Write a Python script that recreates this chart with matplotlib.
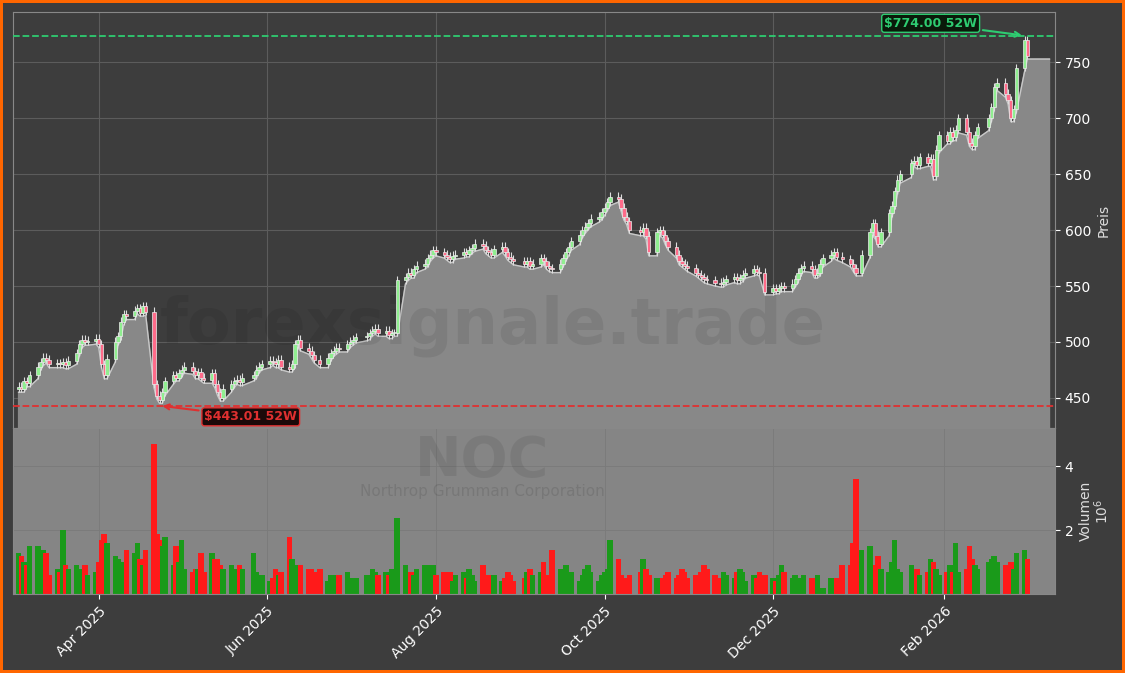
import matplotlib
matplotlib.use("Agg")
import matplotlib.pyplot as plt
import matplotlib.dates as mdates
import pandas as pd
from pandas.tseries.holiday import USFederalHolidayCalendar
from pandas.tseries.offsets import CustomBusinessDay

# Daily closes (approx.), Mar 2025 - Mar 2026
closes = [
    460, 458, 465, 463, 470, 478, 482, 486, 484, 480,
    481, 480, 482, 479, 483, 490, 498, 502, 500, 501,
    503, 498, 480, 470, 485, 500, 505, 518, 525, 523,
    528, 530, 526, 532, 527, 462,
    452, 448, 455, 465, 470, 468, 472, 475, 478,
    474, 470, 473, 468, 466, 472, 462, 455, 450, 458,
    462, 465, 466, 464, 468, 470, 475, 478, 480, 483,
    482, 480, 484, 478, 476, 480, 498, 502, 495, 492,
    488, 484, 480, 486, 490, 492, 495, 494, 498, 500,
    502, 504, 505, 508, 510, 512, 508, 510, 506, 508, 508,
    555, 558, 562, 560, 565, 568, 570, 575, 578, 582, 580,
    578, 576, 574, 577, 578, 580, 579, 582, 584, 588,
    586, 582, 580, 578, 583, 585, 580, 576, 574, 572,
    570, 572, 568, 570, 575, 572, 568, 566, 565, 570,
    575, 580, 585, 590, 596, 600, 603, 606, 610, 612,
    616, 620, 625, 630, 628, 620, 612, 608, 600, 598,
    602, 595, 580, 598, 600, 596, 590, 585, 578, 572,
    570, 568, 566, 562, 560, 558, 556, 555, 553, 552,
    554, 556, 558, 555, 557, 560, 562, 565, 563, 562,
    545, 548, 546, 548, 550, 548, 552, 556, 562, 566,
    568, 565, 560, 562, 570, 575, 578, 580, 576, 574,
    570, 566, 562, 578, 598, 606, 595, 588, 598, 615,
    622, 635, 645, 650, 660, 662, 658, 665, 660, 664,
    648, 672, 685, 680, 688, 683, 690, 700, 688, 678,
    675, 685, 692, 700, 710, 728, 732, 722, 716, 700,
    708, 745, 770, 756,
]
# Daily volume in millions (approx.)
volumes = [
    1.3, 1.2, 1.0, 0.9, 1.5, 1.5, 1.2, 1.4, 1.3, 0.6,
    0.8, 0.7, 2.0, 0.9, 0.8, 0.9, 0.8, 0.7, 0.9, 0.6,
    0.7, 1.0, 1.7, 1.9, 1.6, 1.2, 1.1, 0.8, 1.0, 1.4,
    1.3, 1.6, 1.1, 0.9, 1.4, 4.7,
    1.9, 1.7, 1.5, 1.8, 0.9, 1.5, 1.0, 1.7, 0.8,
    0.7, 0.8, 0.8, 1.3, 0.7, 1.3, 1.1, 1.1, 0.9, 0.8,
    0.9, 0.7, 0.8, 0.9, 0.8, 1.3, 0.7, 0.6, 0.6, 0.4,
    0.5, 0.8, 0.6, 0.7, 1.8, 1.1, 0.7, 0.9, 0.9, 0.8,
    0.8, 0.7, 0.8, 0.4, 0.6, 0.6, 0.5, 0.6, 0.7, 0.5,
    0.4, 0.5, 0.6, 0.5, 0.8, 0.7, 0.6, 0.7, 0.6, 0.8, 0.7,
    2.4,
    0.9, 0.6, 0.7, 0.6, 0.8, 0.9, 0.9, 0.8, 0.9, 0.6,
    0.7, 0.6, 0.7, 0.4, 0.6, 0.7, 0.5, 0.8, 0.6, 0.4,
    0.9, 0.5, 0.6, 0.5, 0.6, 0.4, 0.5, 0.7, 0.6, 0.4,
    0.5, 0.7, 0.8, 0.6, 0.7, 1.0, 0.5, 0.6, 1.4, 0.8,
    0.6, 0.9, 0.5, 0.7, 0.4, 0.6, 0.8, 0.9, 0.7, 0.4,
    0.6, 0.7, 0.8, 1.7, 1.1, 0.6, 0.5, 0.5, 0.6, 0.7,
    1.1, 0.8, 0.6, 0.5, 0.4, 0.5, 0.6, 0.7, 0.5, 0.6,
    0.8, 0.7, 0.5, 0.6, 0.4, 0.7, 0.9, 0.8, 0.6, 0.5,
    0.7, 0.6, 0.5, 0.7, 0.8, 0.7, 0.4, 0.6, 0.5, 0.7,
    0.6, 0.5, 0.4, 0.6, 0.9, 0.7, 0.5, 0.6, 0.4, 0.5,
    0.6, 0.5, 0.4, 0.6, 0.2, 0.2, 0.5, 0.4, 0.5, 0.9,
    0.9, 1.6, 3.6, 1.4, 1.5, 0.9, 0.9, 1.2, 0.8, 0.7,
    1.0, 1.7, 0.8, 0.7, 0.9, 0.8, 0.8, 0.6, 0.7, 1.1,
    1.0, 0.8, 0.6, 0.7, 0.9, 0.7, 1.6, 0.7, 0.8, 1.5,
    1.1, 0.9, 0.8, 1.0, 1.1, 1.2, 1.0, 0.9, 0.9, 1.0,
    0.8, 1.3, 1.4, 1.1,
]
high_52w = 774.00
low_52w = 443.01
ticker = "NOC"
company = "Northrop Grumman Corporation"

cbd = CustomBusinessDay(calendar=USFederalHolidayCalendar())
dates = pd.date_range("2025-03-03", periods=len(closes), freq=cbd)
opens = [closes[0] - 2] + closes[:-1]
highs = [max(o, c) + 4 for o, c in zip(opens, closes)]
lows = [min(o, c) - 3 for o, c in zip(opens, closes)]

bg = "#3d3d3d"
fig = plt.figure(figsize=(11.25, 6.73), dpi=100, facecolor=bg)
fig.patch.set_edgecolor("#ff6600")
fig.patch.set_linewidth(4)
ax = fig.add_axes([0.0116, 0.364, 0.9262, 0.618], facecolor=bg)
axv = fig.add_axes([0.0116, 0.117, 0.9262, 0.247], sharex=ax, facecolor="#858585")

# area under lows, extended flat to the right
fill_x = list(dates) + [dates[-1] + pd.Timedelta(days=8)]
fill_y = lows + [lows[-1]]
ax.fill_between(fill_x, fill_y, 0, color="#888888", zorder=1)
ax.plot(fill_x, fill_y, color="#c8c8c8", lw=1, zorder=2)

for d, o, h, l, c in zip(dates, opens, highs, lows, closes):
    col = "#90ee90" if c >= o else "#ff6b8a"
    ax.vlines(d, l, h, color="#dddddd", lw=0.8, zorder=3)
    ax.bar(d, max(abs(c - o), 0.8), bottom=min(o, c), width=1.2,
           color=col, edgecolor="#eeeeee", lw=0.5, zorder=4)

ax.axhline(high_52w, color="#2ecc71", ls="--", lw=1.3, zorder=5)
ax.axhline(low_52w, color="#e03030", ls="--", lw=1.3, zorder=5)
i_hi = max(range(len(highs)), key=lambda i: highs[i])
i_lo = min(range(len(lows)), key=lambda i: lows[i])
ax.annotate(f"${high_52w:.2f} 52W", xy=(dates[i_hi], high_52w),
            xytext=(dates[i_hi] - pd.Timedelta(days=34), 785),
            color="#2ecc71", fontsize=9, fontweight="bold", ha="center", va="center",
            bbox=dict(boxstyle="round,pad=0.2", fc="#0a1a0a", ec="#2ecc71"),
            arrowprops=dict(arrowstyle="->", color="#2ecc71", lw=1.5), zorder=6)
ax.annotate(f"${low_52w:.2f} 52W", xy=(dates[i_lo], low_52w),
            xytext=(dates[i_lo] + pd.Timedelta(days=33), 433),
            color="#e03030", fontsize=9, fontweight="bold", ha="center", va="center",
            bbox=dict(boxstyle="round,pad=0.2", fc="#1a0a0a", ec="#e03030"),
            arrowprops=dict(arrowstyle="->", color="#e03030", lw=1.5), zorder=6)

ax.text(0.46, 0.245, "forexsignale.trade", transform=ax.transAxes, fontsize=46,
        fontweight="bold", color="black", alpha=0.08, ha="center", va="center", zorder=2)
axv.text(0.45, 0.8, ticker, transform=axv.transAxes, fontsize=40, fontweight="bold",
         color="black", alpha=0.08, ha="center", va="center")
axv.text(0.45, 0.62, company, transform=axv.transAxes, fontsize=11,
         color="black", alpha=0.1, ha="center", va="center")

vcols = ["#1a9a1a" if c >= o else "#ff1a1a" for o, c in zip(opens, closes)]
axv.bar(dates, [v * 1e6 for v in volumes], width=2.0, color=vcols)

ax.set_ylim(423, 795)
axv.set_ylim(0, 5.2e6)
ax.set_xlim(pd.Timestamp("2025-03-01"), pd.Timestamp("2026-03-13"))

for a in (ax, axv):
    a.yaxis.tick_right()
    a.yaxis.set_label_position("right")
    a.tick_params(colors="white", labelsize=10)
    for s in a.spines.values():
        s.set_color("#888888")
ax.grid(True, color="#5c5c5c", lw=0.8)
axv.grid(True, color="#7a7a7a", lw=0.6)
ax.set_axisbelow(True)
axv.set_axisbelow(True)
ax.set_yticks([450, 500, 550, 600, 650, 700, 750])
ax.set_ylabel("Preis", color="#dddddd", fontsize=10)
axv.set_ylabel("Volumen", color="#dddddd", fontsize=10)
axv.set_yticks([2e6, 4e6])
axv.set_yticklabels(["2", "4"])
axv.text(1.045, 0.5, r"$10^6$", transform=axv.transAxes, rotation=90,
         color="#dddddd", fontsize=10, ha="center", va="center")
plt.setp(ax.get_xticklabels(), visible=False)
axv.xaxis.set_major_locator(mdates.MonthLocator(bymonth=[2, 4, 6, 8, 10, 12]))
axv.xaxis.set_major_formatter(mdates.DateFormatter("%b %Y"))
plt.setp(axv.get_xticklabels(), rotation=45, ha="right", rotation_mode="anchor")

fig.savefig("out.png", dpi=100, facecolor=fig.get_facecolor(), edgecolor=fig.patch.get_edgecolor())
